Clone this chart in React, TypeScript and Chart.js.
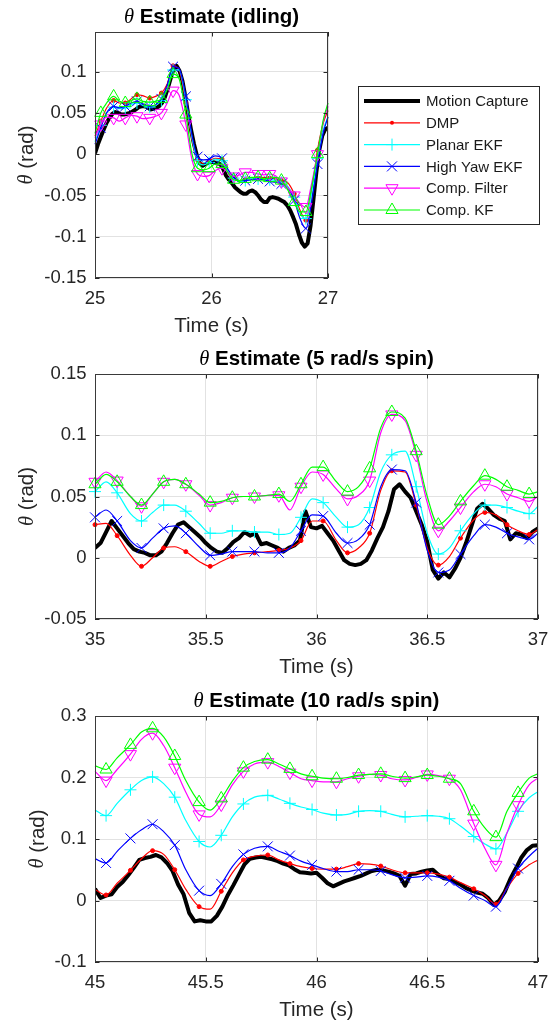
import React, { useEffect, useRef } from 'react';
import { Chart, registerables } from 'chart.js';

Chart.register(...registerables);

const SANS = "'Liberation Sans', Arial, Helvetica, sans-serif";
const SERIF = "'Liberation Serif', 'DejaVu Serif', serif";

const SERIES_NAMES = ['Motion Capture', 'DMP', 'Planar EKF', 'High Yaw EKF', 'Comp. Filter', 'Comp. KF'];
const SERIES_COLORS = ['#000000', '#ff0000', '#00ffff', '#0000ff', '#ff00ff', '#00ff00'];
const SERIES_MARKERS = ['none', 'dot', 'plus', 'x', 'tridown', 'triup'];

// ---------------- Panel 1: idling ----------------
const IDLE_T = [25, 25.05, 25.1, 25.16, 25.21, 25.26, 25.31, 25.36, 25.41, 25.47, 25.52, 25.57, 25.62, 25.67, 25.72, 25.78, 25.83, 25.88, 25.93, 25.98, 26.03, 26.09, 26.14, 26.19, 26.24, 26.29, 26.34, 26.4, 26.45, 26.5, 26.55, 26.6, 26.65, 26.71, 26.76, 26.81, 26.86, 26.91, 26.96, 27];
const IDLE_DMP = [0.022, 0.04, 0.056, 0.065, 0.062, 0.062, 0.067, 0.072, 0.071, 0.068, 0.07, 0.074, 0.085, 0.107, 0.103, 0.062, 0.02, -0.007, -0.011, -0.008, -0.005, -0.006, -0.02, -0.028, -0.032, -0.031, -0.03, -0.029, -0.028, -0.029, -0.03, -0.032, -0.034, -0.048, -0.068, -0.08, -0.045, 0.005, 0.038, 0.053];
const IDLE_PLANAR = [0.015, 0.035, 0.05, 0.057, 0.055, 0.056, 0.06, 0.062, 0.059, 0.057, 0.059, 0.065, 0.08, 0.102, 0.102, 0.066, 0.022, -0.008, -0.013, -0.01, -0.006, -0.008, -0.02, -0.029, -0.033, -0.032, -0.03, -0.03, -0.031, -0.031, -0.032, -0.034, -0.038, -0.052, -0.072, -0.078, -0.048, -0.005, 0.03, 0.045];
const IDLE_HIGHYAW = [0.012, 0.032, 0.05, 0.058, 0.056, 0.058, 0.062, 0.064, 0.061, 0.058, 0.06, 0.067, 0.084, 0.106, 0.104, 0.07, 0.025, -0.003, -0.007, -0.006, -0.002, -0.005, -0.018, -0.028, -0.032, -0.032, -0.031, -0.03, -0.031, -0.033, -0.034, -0.036, -0.04, -0.056, -0.078, -0.09, -0.058, -0.012, 0.026, 0.045];
const IDLE_COMPF = [0.02, 0.036, 0.045, 0.044, 0.04, 0.044, 0.047, 0.046, 0.043, 0.044, 0.046, 0.05, 0.062, 0.077, 0.072, 0.036, -0.005, -0.024, -0.027, -0.026, -0.02, -0.017, -0.022, -0.027, -0.025, -0.022, -0.022, -0.024, -0.025, -0.024, -0.026, -0.033, -0.04, -0.05, -0.06, -0.064, -0.035, 0, 0.04, 0.058];
const IDLE_COMPKF = [0.025, 0.05, 0.062, 0.07, 0.064, 0.062, 0.065, 0.067, 0.064, 0.063, 0.064, 0.067, 0.078, 0.097, 0.092, 0.048, 0.002, -0.017, -0.019, -0.017, -0.012, -0.012, -0.022, -0.031, -0.032, -0.03, -0.028, -0.028, -0.03, -0.029, -0.028, -0.032, -0.042, -0.058, -0.07, -0.07, -0.04, 0, 0.042, 0.062];
const IDLE_MC_T = [25, 25.025, 25.05, 25.075, 25.1, 25.125, 25.15, 25.175, 25.2, 25.225, 25.25, 25.275, 25.3, 25.325, 25.35, 25.375, 25.4, 25.425, 25.45, 25.475, 25.5, 25.525, 25.55, 25.575, 25.6, 25.625, 25.65, 25.675, 25.7, 25.725, 25.75, 25.775, 25.8, 25.825, 25.85, 25.875, 25.9, 25.925, 25.95, 25.975, 26, 26.025, 26.05, 26.075, 26.1, 26.125, 26.15, 26.175, 26.2, 26.225, 26.25, 26.275, 26.3, 26.325, 26.35, 26.375, 26.4, 26.425, 26.45, 26.475, 26.5, 26.525, 26.55, 26.575, 26.6, 26.625, 26.65, 26.675, 26.7, 26.725, 26.75, 26.775, 26.8, 26.825, 26.85, 26.875, 26.9, 26.925, 26.95, 26.975, 27];
const IDLE_MC = [0.001, 0.012, 0.021, 0.03, 0.038, 0.044, 0.049, 0.051, 0.05, 0.048, 0.048, 0.049, 0.05, 0.052, 0.054, 0.057, 0.058, 0.058, 0.057, 0.054, 0.055, 0.056, 0.058, 0.062, 0.069, 0.08, 0.092, 0.104, 0.107, 0.101, 0.089, 0.07, 0.048, 0.029, 0.012, -0.002, -0.011, -0.014, -0.012, -0.01, -0.009, -0.01, -0.011, -0.012, -0.018, -0.026, -0.031, -0.035, -0.04, -0.043, -0.046, -0.048, -0.048, -0.045, -0.044, -0.046, -0.05, -0.055, -0.058, -0.058, -0.053, -0.052, -0.053, -0.054, -0.056, -0.058, -0.062, -0.068, -0.076, -0.085, -0.097, -0.107, -0.112, -0.108, -0.087, -0.055, -0.022, 0.005, 0.022, 0.03, 0.032];
const IDLE_X_TICKS = [25, 26, 27];
const IDLE_Y_TICKS = [-0.15, -0.1, -0.05, 0, 0.05, 0.1];

// ---------------- Panel 2: 5 rad/s ----------------
const SPIN5_T = [35, 35.05, 35.1, 35.16, 35.21, 35.26, 35.31, 35.36, 35.41, 35.47, 35.52, 35.57, 35.62, 35.67, 35.72, 35.78, 35.83, 35.88, 35.93, 35.98, 36.03, 36.09, 36.14, 36.19, 36.24, 36.29, 36.34, 36.4, 36.45, 36.5, 36.55, 36.6, 36.65, 36.71, 36.76, 36.81, 36.86, 36.91, 36.96, 37];
const SPIN5_DMP = [0.027, 0.028, 0.018, 0.002, -0.007, 0, 0.008, 0.009, 0.005, -0.003, -0.007, -0.003, 0.001, 0.003, 0.004, 0.005, 0.006, 0.008, 0.014, 0.03, 0.03, 0.014, 0.004, 0.008, 0.02, 0.055, 0.071, 0.07, 0.043, 0.008, -0.006, 0.001, 0.016, 0.031, 0.037, 0.035, 0.027, 0.022, 0.019, 0.023];
const SPIN5_PLANAR = [0.054, 0.062, 0.053, 0.036, 0.03, 0.037, 0.043, 0.043, 0.038, 0.028, 0.02, 0.02, 0.022, 0.022, 0.021, 0.021, 0.019, 0.02, 0.033, 0.048, 0.045, 0.033, 0.025, 0.027, 0.041, 0.07, 0.084, 0.087, 0.058, 0.02, 0.003, 0.008, 0.022, 0.036, 0.043, 0.043, 0.041, 0.038, 0.036, 0.042];
const SPIN5_HIGHYAW = [0.033, 0.039, 0.03, 0.014, 0.008, 0.016, 0.024, 0.026, 0.02, 0.009, 0.002, 0.003, 0.005, 0.005, 0.005, 0.004, 0.004, 0.008, 0.022, 0.035, 0.034, 0.02, 0.012, 0.015, 0.027, 0.058, 0.072, 0.071, 0.045, 0.006, -0.012, -0.01, 0.003, 0.018, 0.027, 0.025, 0.02, 0.017, 0.015, 0.02];
const SPIN5_COMPF = [0.062, 0.07, 0.063, 0.05, 0.042, 0.052, 0.062, 0.064, 0.06, 0.051, 0.043, 0.045, 0.049, 0.05, 0.05, 0.051, 0.051, 0.039, 0.058, 0.07, 0.068, 0.056, 0.048, 0.051, 0.063, 0.102, 0.117, 0.112, 0.084, 0.045, 0.022, 0.03, 0.041, 0.054, 0.06, 0.058, 0.052, 0.049, 0.046, 0.05];
const SPIN5_COMPKF = [0.06, 0.068, 0.062, 0.05, 0.043, 0.052, 0.062, 0.064, 0.06, 0.052, 0.045, 0.046, 0.049, 0.05, 0.05, 0.051, 0.052, 0.046, 0.06, 0.074, 0.074, 0.062, 0.054, 0.058, 0.073, 0.106, 0.119, 0.114, 0.087, 0.05, 0.027, 0.034, 0.046, 0.059, 0.067, 0.064, 0.058, 0.055, 0.052, 0.054];
const SPIN5_MC_T = [35, 35.025, 35.05, 35.075, 35.1, 35.125, 35.15, 35.175, 35.2, 35.225, 35.25, 35.275, 35.3, 35.325, 35.35, 35.375, 35.4, 35.425, 35.45, 35.475, 35.5, 35.525, 35.55, 35.575, 35.6, 35.625, 35.65, 35.675, 35.7, 35.725, 35.75, 35.775, 35.8, 35.825, 35.85, 35.875, 35.9, 35.925, 35.95, 35.975, 36, 36.025, 36.05, 36.075, 36.1, 36.125, 36.15, 36.175, 36.2, 36.225, 36.25, 36.275, 36.3, 36.325, 36.35, 36.375, 36.4, 36.425, 36.45, 36.475, 36.5, 36.525, 36.55, 36.575, 36.6, 36.625, 36.65, 36.675, 36.7, 36.725, 36.75, 36.775, 36.8, 36.825, 36.85, 36.875, 36.9, 36.925, 36.95, 36.975, 37];
const SPIN5_MC = [0.008, 0.012, 0.021, 0.03, 0.024, 0.018, 0.012, 0.007, 0.005, 0.004, 0.002, 0.002, 0.005, 0.012, 0.02, 0.027, 0.029, 0.025, 0.021, 0.017, 0.012, 0.008, 0.005, 0.004, 0.008, 0.013, 0.016, 0.021, 0.018, 0.02, 0.011, 0.012, 0.01, 0.008, 0.005, 0.008, 0.01, 0.014, 0.038, 0.025, 0.024, 0.026, 0.02, 0.014, 0.006, -0.002, -0.005, -0.006, -0.005, -0.002, 0.006, 0.016, 0.025, 0.038, 0.056, 0.06, 0.054, 0.049, 0.038, 0.027, 0.013, -0.01, -0.017, -0.012, -0.016, -0.009, 0, 0.012, 0.026, 0.04, 0.044, 0.04, 0.035, 0.032, 0.03, 0.015, 0.02, 0.019, 0.016, 0.021, 0.024];
const SPIN5_X_TICKS = [35, 35.5, 36, 36.5, 37];
const SPIN5_Y_TICKS = [-0.05, 0, 0.05, 0.1, 0.15];

// ---------------- Panel 3: 10 rad/s ----------------
const SPIN10_T = [45, 45.05, 45.1, 45.16, 45.21, 45.26, 45.31, 45.36, 45.41, 45.47, 45.52, 45.57, 45.62, 45.67, 45.72, 45.78, 45.83, 45.88, 45.93, 45.98, 46.03, 46.09, 46.14, 46.19, 46.24, 46.29, 46.34, 46.4, 46.45, 46.5, 46.55, 46.6, 46.65, 46.71, 46.76, 46.81, 46.86, 46.91, 46.96, 47];
const SPIN10_DMP = [0.018, 0.009, 0.028, 0.049, 0.068, 0.081, 0.075, 0.05, 0.018, -0.01, -0.014, 0.015, 0.045, 0.066, 0.072, 0.074, 0.066, 0.06, 0.055, 0.052, 0.051, 0.051, 0.055, 0.06, 0.059, 0.056, 0.05, 0.045, 0.045, 0.045, 0.043, 0.038, 0.029, 0.019, 0.008, -0.006, 0.02, 0.044, 0.058, 0.066];
const SPIN10_PLANAR = [0.147, 0.138, 0.158, 0.18, 0.195, 0.201, 0.19, 0.168, 0.13, 0.096, 0.087, 0.106, 0.136, 0.157, 0.168, 0.171, 0.165, 0.158, 0.152, 0.148, 0.142, 0.139, 0.14, 0.145, 0.146, 0.145, 0.14, 0.136, 0.137, 0.138, 0.137, 0.133, 0.121, 0.104, 0.092, 0.084, 0.11, 0.145, 0.167, 0.177];
const SPIN10_HIGHYAW = [0.068, 0.061, 0.08, 0.101, 0.115, 0.124, 0.112, 0.09, 0.05, 0.016, 0.008, 0.027, 0.055, 0.075, 0.085, 0.088, 0.08, 0.073, 0.064, 0.058, 0.052, 0.047, 0.047, 0.05, 0.05, 0.048, 0.042, 0.037, 0.038, 0.04, 0.038, 0.032, 0.02, 0.008, 0, -0.01, 0.02, 0.052, 0.072, 0.085];
const SPIN10_COMPF = [0.21, 0.195, 0.213, 0.238, 0.262, 0.272, 0.252, 0.216, 0.176, 0.14, 0.136, 0.156, 0.188, 0.21, 0.222, 0.225, 0.218, 0.208, 0.198, 0.195, 0.193, 0.193, 0.198, 0.202, 0.205, 0.204, 0.198, 0.196, 0.2, 0.205, 0.203, 0.198, 0.18, 0.125, 0.085, 0.058, 0.11, 0.155, 0.188, 0.199];
const SPIN10_COMPKF = [0.219, 0.213, 0.232, 0.253, 0.274, 0.28, 0.266, 0.235, 0.195, 0.16, 0.147, 0.166, 0.194, 0.216, 0.226, 0.229, 0.222, 0.214, 0.206, 0.202, 0.199, 0.198, 0.2, 0.204, 0.205, 0.206, 0.202, 0.199, 0.201, 0.204, 0.202, 0.198, 0.19, 0.145, 0.118, 0.103, 0.145, 0.175, 0.199, 0.206];
const SPIN10_MC_T = [45, 45.025, 45.05, 45.075, 45.1, 45.125, 45.15, 45.175, 45.2, 45.225, 45.25, 45.275, 45.3, 45.325, 45.35, 45.375, 45.4, 45.425, 45.45, 45.475, 45.5, 45.525, 45.55, 45.575, 45.6, 45.625, 45.65, 45.675, 45.7, 45.725, 45.75, 45.775, 45.8, 45.825, 45.85, 45.875, 45.9, 45.925, 45.95, 45.975, 46, 46.025, 46.05, 46.075, 46.1, 46.125, 46.15, 46.175, 46.2, 46.225, 46.25, 46.275, 46.3, 46.325, 46.35, 46.375, 46.4, 46.425, 46.45, 46.475, 46.5, 46.525, 46.55, 46.575, 46.6, 46.625, 46.65, 46.675, 46.7, 46.725, 46.75, 46.775, 46.8, 46.825, 46.85, 46.875, 46.9, 46.925, 46.95, 46.975, 47];
const SPIN10_MC = [0.019, 0.004, 0.008, 0.01, 0.022, 0.03, 0.041, 0.053, 0.066, 0.069, 0.071, 0.074, 0.07, 0.061, 0.048, 0.026, 0.01, -0.02, -0.034, -0.032, -0.034, -0.034, -0.025, -0.01, 0.009, 0.025, 0.042, 0.059, 0.068, 0.07, 0.071, 0.069, 0.067, 0.064, 0.06, 0.057, 0.051, 0.046, 0.045, 0.044, 0.045, 0.037, 0.028, 0.023, 0.027, 0.031, 0.034, 0.037, 0.04, 0.044, 0.048, 0.05, 0.049, 0.047, 0.044, 0.04, 0.024, 0.043, 0.044, 0.047, 0.049, 0.05, 0.042, 0.036, 0.035, 0.03, 0.026, 0.02, 0.016, 0.013, 0.011, 0.004, -0.007, 0, 0.014, 0.035, 0.052, 0.07, 0.082, 0.089, 0.09];
const SPIN10_X_TICKS = [45, 45.5, 46, 46.5, 47];
const SPIN10_Y_TICKS = [-0.1, 0, 0.1, 0.2, 0.3];

const PANELS = [
  {
    title: 'Estimate (idling)', t: IDLE_T, est: [IDLE_DMP, IDLE_PLANAR, IDLE_HIGHYAW, IDLE_COMPF, IDLE_COMPKF],
    mcT: IDLE_MC_T, mc: IDLE_MC, phase: 1, xMin: 25, xMax: 27, xTicks: IDLE_X_TICKS, yMin: -0.15, yMax: 0.148, yTicks: IDLE_Y_TICKS,
    top: 0, height: 345, padTop: 32, xAxisH: 67, padRight: 231, yLabelX: 27, legend: true,
  },
  {
    title: 'Estimate (5 rad/s spin)', t: SPIN5_T, est: [SPIN5_DMP, SPIN5_PLANAR, SPIN5_HIGHYAW, SPIN5_COMPF, SPIN5_COMPKF],
    mcT: SPIN5_MC_T, mc: SPIN5_MC, phase: 0, xMin: 35, xMax: 37, xTicks: SPIN5_X_TICKS, yMin: -0.05, yMax: 0.15, yTicks: SPIN5_Y_TICKS,
    top: 335, height: 355, padTop: 39, xAxisH: 71, padRight: 21, yLabelX: 27.5, legend: false,
  },
  {
    title: 'Estimate (10 rad/s spin)', t: SPIN10_T, est: [SPIN10_DMP, SPIN10_PLANAR, SPIN10_HIGHYAW, SPIN10_COMPF, SPIN10_COMPKF],
    mcT: SPIN10_MC_T, mc: SPIN10_MC, phase: 1, xMin: 45, xMax: 47, xTicks: SPIN10_X_TICKS, yMin: -0.1, yMax: 0.3, yTicks: SPIN10_Y_TICKS,
    top: 680, height: 346, padTop: 36, xAxisH: 64, padRight: 21, yLabelX: 38, legend: false,
  },
];

const W = 559;

function pts(t: number[], v: number[]) {
  return t.map((x, i) => ({ x, y: v[i] }));
}

function markerProps(m: string) {
  switch (m) {
    case 'dot': return { style: 'circle', radius: 2, rotation: 0, fill: true };
    case 'plus': return { style: 'cross', radius: 6, rotation: 0, fill: false };
    case 'x': return { style: 'crossRot', radius: 7, rotation: 0, fill: false };
    case 'tridown': return { style: 'triangle', radius: 7, rotation: 180, fill: false };
    case 'triup': return { style: 'triangle', radius: 7, rotation: 0, fill: false };
    default: return { style: 'circle', radius: 0, rotation: 0, fill: false };
  }
}

function drawMarker(ctx: CanvasRenderingContext2D, m: string, x: number, y: number, color: string) {
  ctx.save();
  ctx.strokeStyle = color;
  ctx.fillStyle = color;
  ctx.lineWidth = 1;
  ctx.beginPath();
  if (m === 'dot') {
    ctx.arc(x, y, 2, 0, Math.PI * 2);
    ctx.fill();
  } else if (m === 'plus') {
    ctx.moveTo(x - 6, y); ctx.lineTo(x + 6, y);
    ctx.moveTo(x, y - 6); ctx.lineTo(x, y + 6);
    ctx.stroke();
  } else if (m === 'x') {
    ctx.moveTo(x - 5, y - 5); ctx.lineTo(x + 5, y + 5);
    ctx.moveTo(x - 5, y + 5); ctx.lineTo(x + 5, y - 5);
    ctx.stroke();
  } else if (m === 'tridown') {
    ctx.moveTo(x, y + 7); ctx.lineTo(x + 6.06, y - 3.5); ctx.lineTo(x - 6.06, y - 3.5); ctx.closePath();
    ctx.stroke();
  } else if (m === 'triup') {
    ctx.moveTo(x, y - 7); ctx.lineTo(x + 6.06, y + 3.5); ctx.lineTo(x - 6.06, y + 3.5); ctx.closePath();
    ctx.stroke();
  }
  ctx.restore();
}

function drawThetaText(ctx: CanvasRenderingContext2D, rest: string, x: number, y: number, restFont: string, thetaFont: string, color: string) {
  ctx.font = thetaFont;
  const w1 = ctx.measureText('\u03B8').width;
  ctx.font = restFont;
  const w2 = ctx.measureText(rest).width;
  const x0 = x - (w1 + w2) / 2;
  ctx.fillStyle = color;
  ctx.textAlign = 'left';
  ctx.font = thetaFont;
  ctx.fillText('\u03B8', x0, y);
  ctx.font = restFont;
  ctx.fillText(rest, x0 + w1, y);
}

const decorPlugin = {
  id: 'decor',
  afterDraw(chart: any, _args: any, opts: any) {
    const { ctx, chartArea: a } = chart;
    const xs = chart.scales.x;
    const ys = chart.scales.y;
    ctx.save();
    // inward tick marks on all four sides
    ctx.strokeStyle = '#262626';
    ctx.lineWidth = 1;
    ctx.beginPath();
    const L = 4.5;
    xs.ticks.forEach((t: any) => {
      const p = Math.round(xs.getPixelForValue(t.value)) + 0.5;
      ctx.moveTo(p, a.bottom); ctx.lineTo(p, a.bottom - L);
      ctx.moveTo(p, a.top); ctx.lineTo(p, a.top + L);
    });
    ys.ticks.forEach((t: any) => {
      const p = Math.round(ys.getPixelForValue(t.value)) + 0.5;
      ctx.moveTo(a.left, p); ctx.lineTo(a.left + L, p);
      ctx.moveTo(a.right, p); ctx.lineTo(a.right - L, p);
    });
    ctx.stroke();
    // box
    ctx.strokeStyle = '#3a3a3a';
    ctx.strokeRect(Math.round(a.left) + 0.5, Math.round(a.top) + 0.5, Math.round(a.right - a.left) - 1, Math.round(a.bottom - a.top) - 1);

    const cx = (a.left + a.right) / 2;
    // title
    ctx.textBaseline = 'alphabetic';
    drawThetaText(ctx, ' ' + opts.title, cx, a.top - 9, `bold 20.5px ${SANS}`, `italic 20.5px ${SERIF}`, '#000000');
    // x label
    ctx.font = `20.5px ${SANS}`;
    ctx.fillStyle = '#262626';
    ctx.textAlign = 'center';
    ctx.fillText('Time (s)', cx, a.bottom + 54);
    // y label
    ctx.save();
    ctx.translate(opts.yLabelX, (a.top + a.bottom) / 2);
    ctx.rotate(-Math.PI / 2);
    ctx.textBaseline = 'middle';
    drawThetaText(ctx, ' (rad)', 0, 0, `20.5px ${SANS}`, `italic 20.5px ${SERIF}`, '#262626');
    ctx.restore();

    // legend
    if (opts.legend) {
      const bx = 358, by = 86, bw = 181, bh = 138;
      ctx.fillStyle = '#ffffff';
      ctx.fillRect(bx, by, bw, bh);
      ctx.strokeStyle = '#262626';
      ctx.lineWidth = 1;
      ctx.strokeRect(bx + 0.5, by + 0.5, bw, bh);
      SERIES_NAMES.forEach((name, i) => {
        const y = 101 + i * 21.8;
        ctx.save();
        ctx.strokeStyle = SERIES_COLORS[i];
        ctx.lineWidth = i === 0 ? 4 : 1.2;
        ctx.beginPath();
        ctx.moveTo(364, y);
        ctx.lineTo(420, y);
        ctx.stroke();
        ctx.restore();
        drawMarker(ctx, SERIES_MARKERS[i], 392, y, SERIES_COLORS[i]);
        ctx.font = `15px ${SANS}`;
        ctx.fillStyle = '#1a1a1a';
        ctx.textAlign = 'left';
        ctx.textBaseline = 'middle';
        ctx.fillText(name, 426, y + 1);
      });
    }
    ctx.restore();
  },
};

function fmt(v: number) {
  return String(Math.round(v * 1000) / 1000);
}

function buildConfig(p: any) {
  const datasets: any[] = [];
  datasets.push({
    label: SERIES_NAMES[0],
    data: pts(p.mcT, p.mc),
    borderColor: SERIES_COLORS[0],
    backgroundColor: SERIES_COLORS[0],
    borderWidth: 4,
    borderJoinStyle: 'round',
    pointRadius: 0,
    tension: 0,
    order: 6,
  });
  p.est.forEach((vals: number[], k: number) => {
    const idx = k + 1;
    const mp = markerProps(SERIES_MARKERS[idx]);
    const color = SERIES_COLORS[idx];
    const n = p.t.length;
    datasets.push({
      label: SERIES_NAMES[idx],
      data: pts(p.t, vals),
      borderColor: color,
      backgroundColor: color,
      borderWidth: 1.2,
      cubicInterpolationMode: 'monotone',
      clip: 10,
      pointStyle: mp.style,
      rotation: mp.rotation,
      pointRadius: (c: any) => (typeof c.dataIndex === 'number' && c.dataIndex % 2 === p.phase && c.dataIndex < n - 1 ? mp.radius : 0),
      pointHoverRadius: 0,
      pointBorderColor: color,
      pointBackgroundColor: mp.fill ? color : 'rgba(0,0,0,0)',
      pointBorderWidth: 1,
      order: 6 - idx,
    });
  });
  const tickFont = { family: SANS, size: 18.5 };
  return {
    type: 'line',
    data: { datasets },
    plugins: [decorPlugin],
    options: {
      animation: false,
      responsive: false,
      maintainAspectRatio: false,
      events: [],
      layout: { padding: { top: p.padTop, right: p.padRight, left: 0, bottom: 0 } },
      plugins: {
        legend: { display: false },
        tooltip: { enabled: false },
        title: { display: false },
        decor: { title: p.title, yLabelX: p.yLabelX, legend: p.legend },
      },
      scales: {
        x: {
          type: 'linear',
          min: p.xMin,
          max: p.xMax,
          afterBuildTicks: (s: any) => { s.ticks = p.xTicks.map((value: number) => ({ value })); },
          afterFit: (s: any) => { s.height = p.xAxisH; },
          ticks: { font: tickFont, color: '#262626', padding: 10, maxRotation: 0, autoSkip: false, callback: (v: number) => fmt(v) },
          grid: { color: '#e2e2e2', lineWidth: 1, drawTicks: false },
          border: { display: false },
        },
        y: {
          type: 'linear',
          min: p.yMin,
          max: p.yMax,
          afterBuildTicks: (s: any) => { s.ticks = p.yTicks.map((value: number) => ({ value })); },
          afterFit: (s: any) => { s.width = 95; },
          ticks: { font: tickFont, color: '#262626', padding: 8.5, autoSkip: false, callback: (v: number) => fmt(v) },
          grid: { color: '#e2e2e2', lineWidth: 1, drawTicks: false },
          border: { display: false },
        },
      },
    },
  };
}

function PanelChart({ p }: { p: any }) {
  const ref = useRef<HTMLCanvasElement | null>(null);
  useEffect(() => {
    if (!ref.current) return;
    const chart = new Chart(ref.current, buildConfig(p) as any);
    return () => chart.destroy();
  }, [p]);
  return (
    <canvas
      ref={ref}
      width={W}
      height={p.height}
      style={{ position: 'absolute', left: 0, top: p.top, width: W, height: p.height }}
    />
  );
}

export default function App() {
  return (
    <div style={{ position: 'absolute', left: 0, top: 0, width: W, height: 1026, background: '#ffffff', overflow: 'hidden' }}>
      {PANELS.map((p, i) => (
        <PanelChart key={i} p={p} />
      ))}
    </div>
  );
}
